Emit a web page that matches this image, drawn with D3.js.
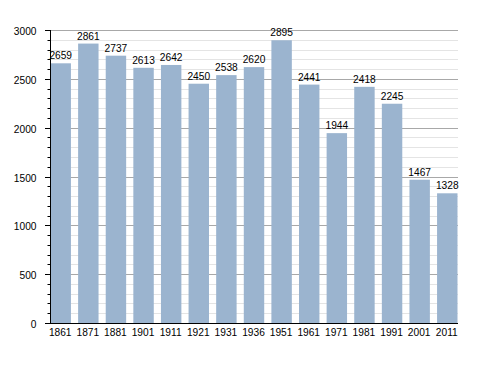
<!DOCTYPE html>
<html><head><meta charset="utf-8">
<script src="https://cdn.jsdelivr.net/npm/d3@7"></script>
<style>body{margin:0;background:#fff}svg{display:block}text{font-family:"Liberation Sans",Arial,sans-serif}</style>
</head><body><svg id="c" width="488" height="373"></svg>
<script>
const years = ["1861","1871","1881","1901","1911","1921","1931","1936","1951","1961","1971","1981","1991","2001","2011"];
const population = [2659,2861,2737,2613,2642,2450,2538,2620,2895,2441,1944,2418,2245,1467,1328];
const yTicks = [0,500,1000,1500,2000,2500,3000];

const svg = d3.select("#c");
const L = 50, R = 458, T = 30, B = 323;
const FS = 10.2;
const x = d3.scaleBand().domain(years).range([L+0.5, R-0.5]).paddingInner(0.26).paddingOuter(0);
const y = d3.scaleLinear().domain([0,3000]).range([B, T]);

// minor gridlines
const minor = d3.range(100, 3001, 100).filter(v => v % 500 !== 0);
svg.append("g").selectAll("line").data(minor).join("line")
  .attr("x1", L).attr("x2", R).attr("y1", d => Math.round(y(d))+0.5).attr("y2", d => Math.round(y(d))+0.5)
  .attr("stroke", "#e4e4e4").attr("stroke-width", 1);
// major gridlines
svg.append("g").selectAll("line").data(yTicks.filter(v => v > 0)).join("line")
  .attr("x1", L).attr("x2", R).attr("y1", d => Math.round(y(d))+0.5).attr("y2", d => Math.round(y(d))+0.5)
  .attr("stroke", "#a8a8a8").attr("stroke-width", 1);

// bars
svg.append("g").selectAll("rect").data(population).join("rect")
  .attr("x", (d,i) => x(years[i])).attr("width", x.bandwidth())
  .attr("y", d => y(d)).attr("height", d => B - y(d))
  .attr("fill", "#9bb4cf");

// value labels
svg.append("g").selectAll("text").data(population).join("text")
  .attr("x", (d,i) => x(years[i]) + x.bandwidth()/2).attr("y", d => y(d) - 4)
  .attr("text-anchor", "middle").attr("font-size", FS).attr("fill", "#000")
  .text(d => d);

// left axis
const gy = svg.append("g");
gy.append("line").attr("x1", L+0.5).attr("x2", L+0.5).attr("y1", T).attr("y2", B).attr("stroke", "#000");
gy.selectAll("line.mi").data(d3.range(0, 3001, 100)).join("line").attr("class","mi")
  .attr("x1", d => d % 500 === 0 ? L-5 : L-2.5).attr("x2", L)
  .attr("y1", d => Math.round(y(d))+0.5).attr("y2", d => Math.round(y(d))+0.5)
  .attr("stroke", "#000");
gy.selectAll("text").data(yTicks).join("text")
  .attr("x", 36.5).attr("y", d => y(d) + 5)
  .attr("text-anchor", "end").attr("font-size", FS).attr("fill", "#000")
  .text(d => d);

// bottom axis
const gx = svg.append("g");
gx.append("line").attr("x1", L).attr("x2", R).attr("y1", B+0.5).attr("y2", B+0.5).attr("stroke", "#000");
gx.selectAll("text").data(years).join("text")
  .attr("x", d => x(d) + x.bandwidth()/2 - 0.5).attr("y", 335.5)
  .attr("text-anchor", "middle").attr("font-size", FS).attr("fill", "#000")
  .text(d => d);
</script></body></html>
